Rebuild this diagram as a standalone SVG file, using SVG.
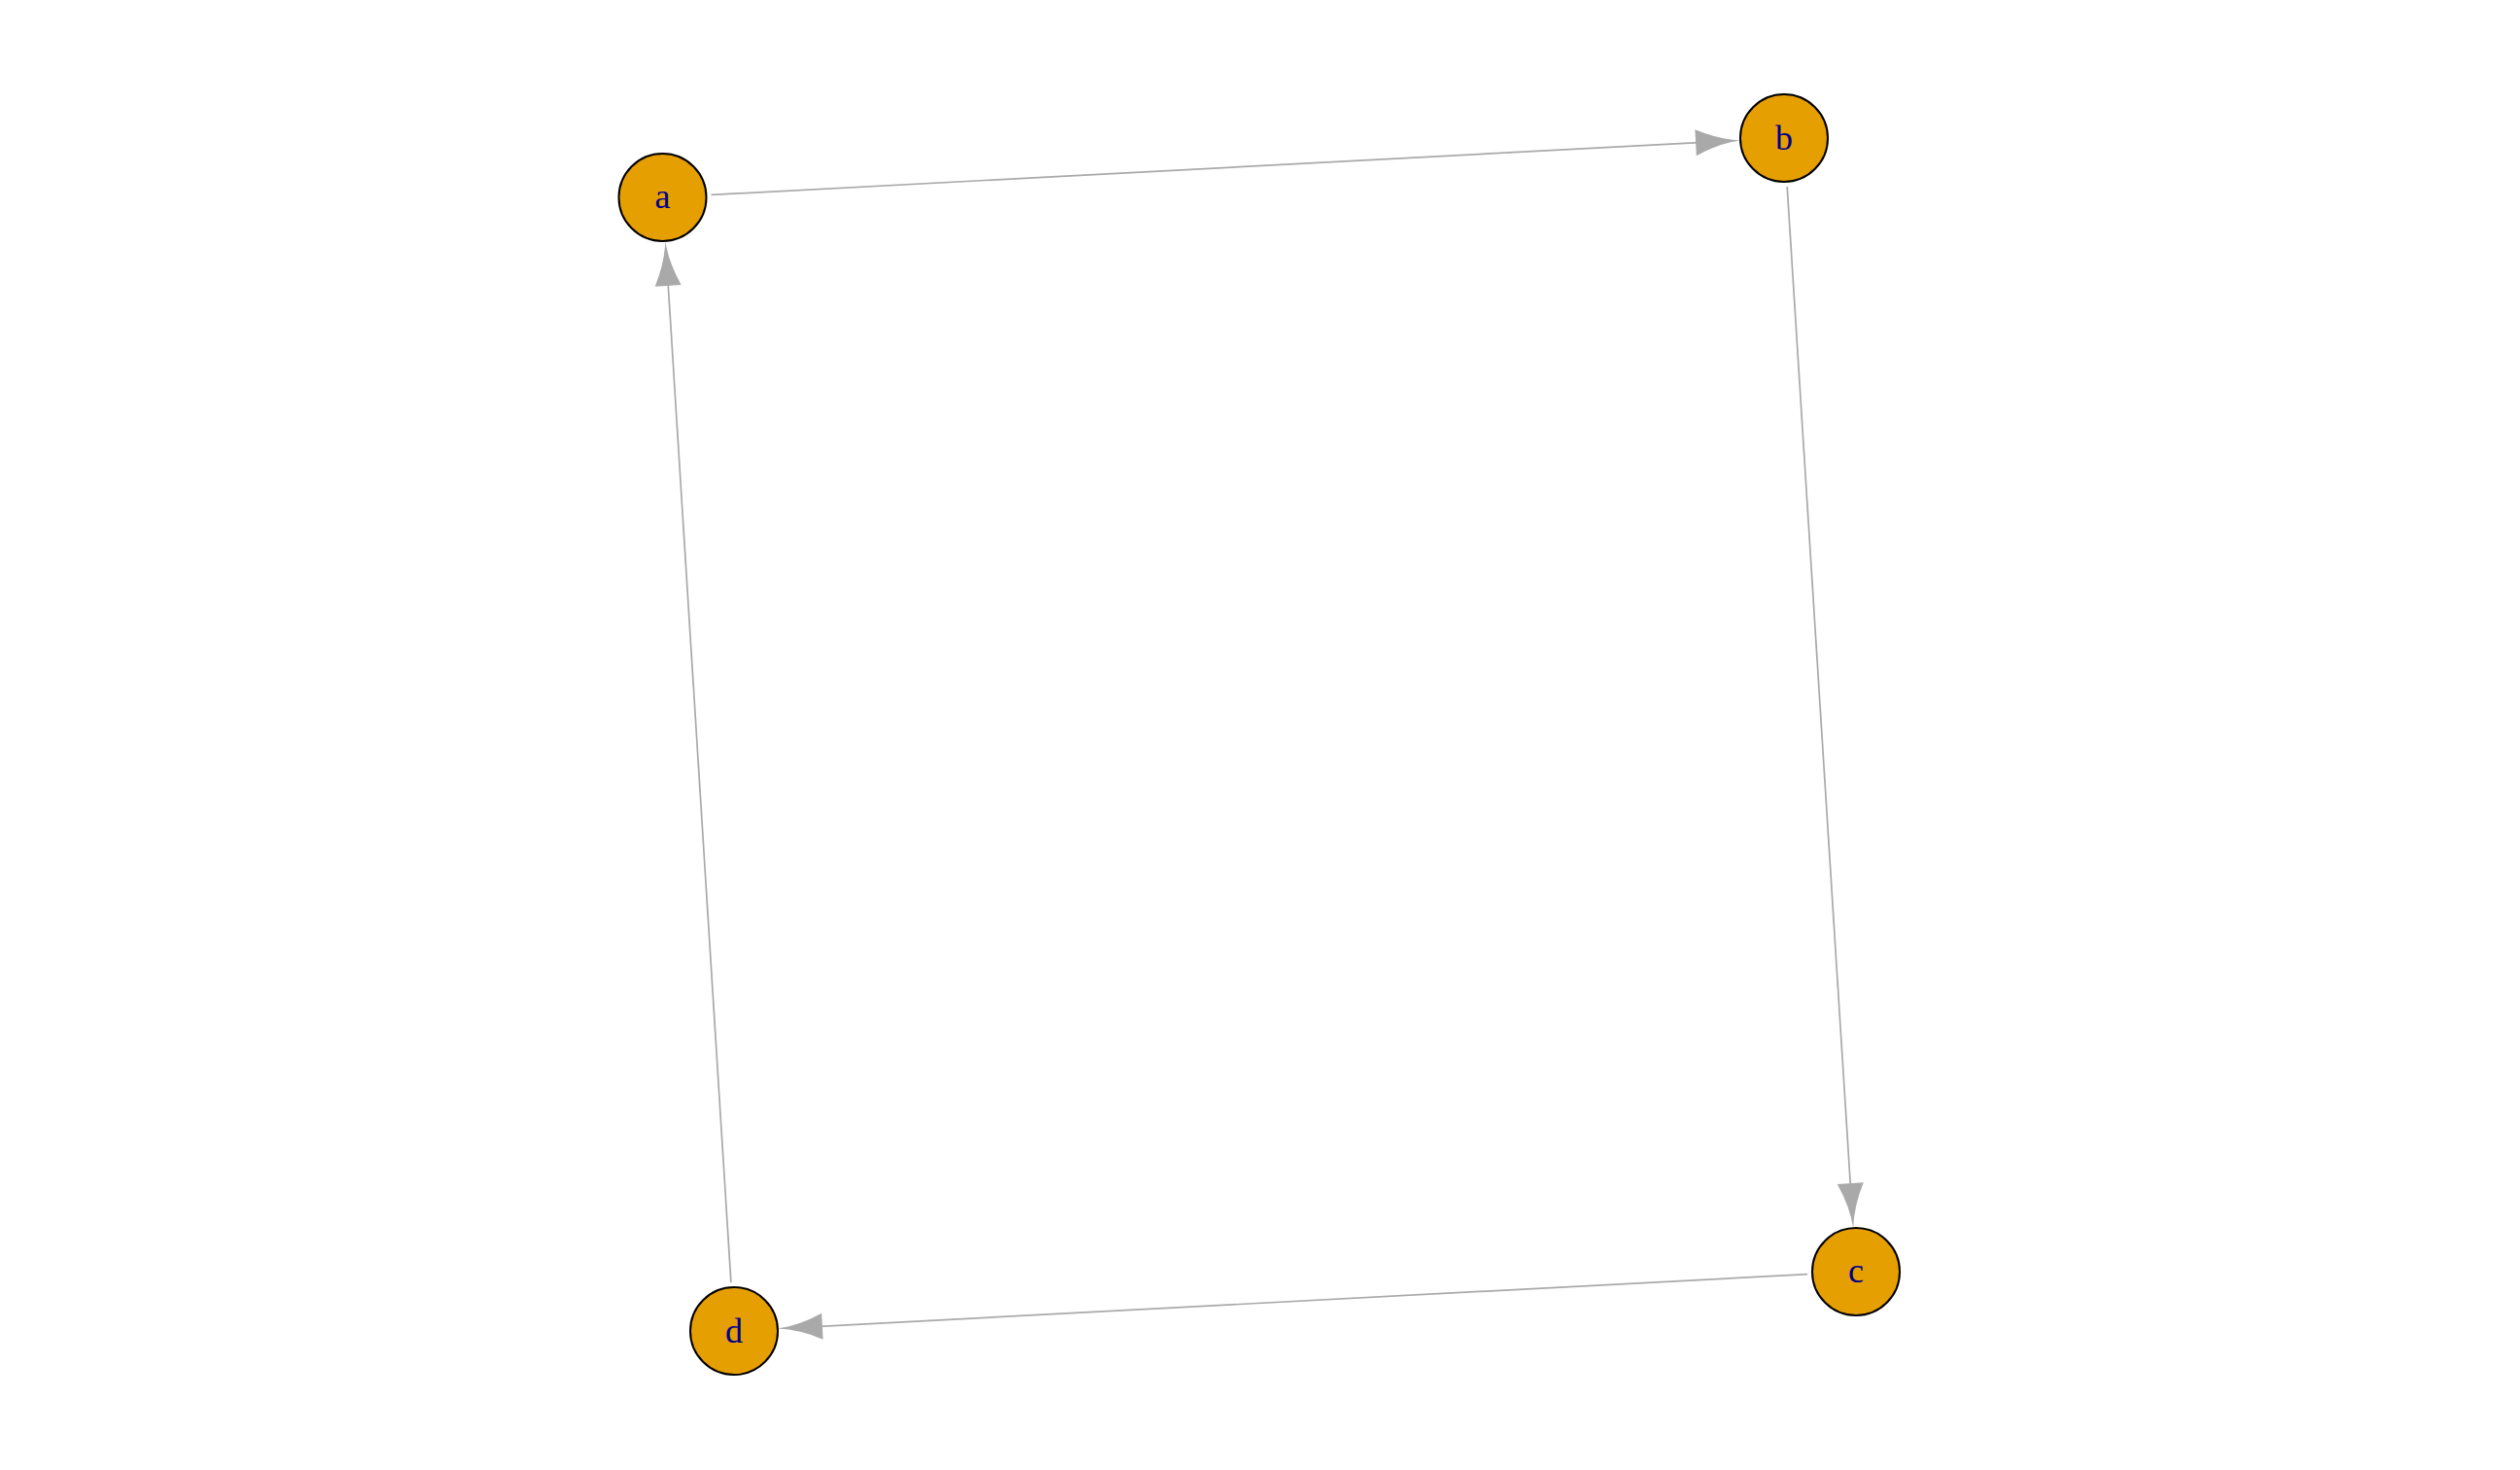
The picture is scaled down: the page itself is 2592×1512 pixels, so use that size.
<svg xmlns="http://www.w3.org/2000/svg" width="2592" height="1512" viewBox="0 0 2592 1512">
<style>
.edge{stroke:#A9A9A9;stroke-width:1.7;fill:none}
.head{fill:#A9A9A9;stroke:none}
.node circle{fill:#E69F00;stroke:#000;stroke-width:2}
.node text{font-family:"Liberation Serif",serif;font-size:36px;fill:#00008B;text-anchor:middle}
</style>
<defs>
<path id="ah" d="M0,0 Q-22,-2 -46,-13.5 L-46,13.5 Q-22,2 0,0 Z"/>
</defs>
<rect width="2592" height="1512" fill="#fff"/>
<g id="edges">
<line class="edge" x1="731.4" y1="200.4" x2="1752" y2="146.4"/>
<use href="#ah" class="head" transform="translate(1790.1,144.4) rotate(-3.03)"/>
<line class="edge" x1="1838.2" y1="191.9" x2="1903.7" y2="1225"/>
<use href="#ah" class="head" transform="translate(1906.2,1263.1) rotate(86.37)"/>
<line class="edge" x1="1859.1" y1="1310.6" x2="838" y2="1364.6"/>
<use href="#ah" class="head" transform="translate(799.9,1366.6) rotate(176.97)"/>
<line class="edge" x1="751.9" y1="1319.1" x2="686.8" y2="286"/>
<use href="#ah" class="head" transform="translate(684.3,247.9) rotate(-93.6)"/>
</g>
<g id="node-a" class="node"><circle cx="681.5" cy="203" r="45"/><text x="681.5" y="214">a</text></g>
<g id="node-b" class="node"><circle cx="1835" cy="142" r="45"/><text x="1835" y="154">b</text></g>
<g id="node-c" class="node"><circle cx="1909" cy="1308" r="45"/><text x="1909" y="1319">c</text></g>
<g id="node-d" class="node"><circle cx="755" cy="1369" r="45"/><text x="755" y="1381">d</text></g>
</svg>
